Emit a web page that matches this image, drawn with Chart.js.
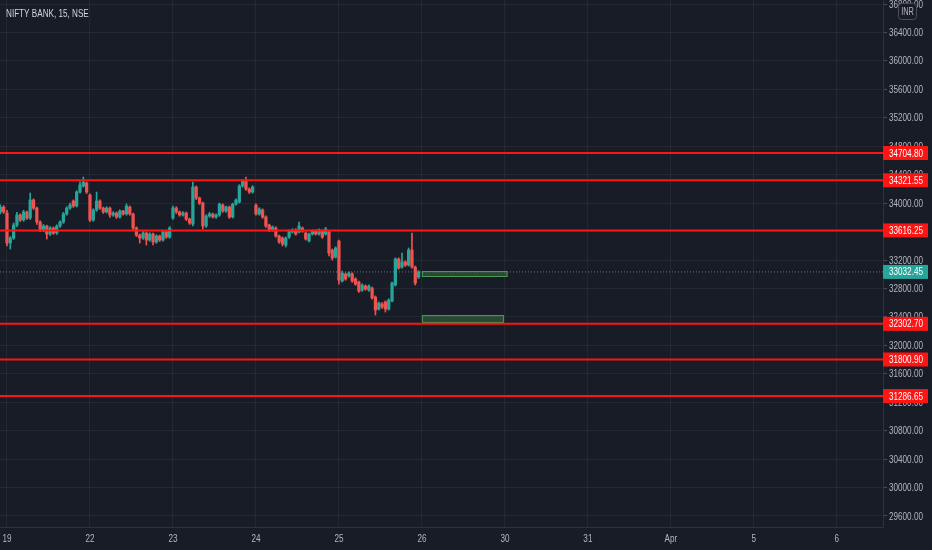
<!DOCTYPE html>
<html>
<head>
<meta charset="utf-8">
<title>NIFTY BANK, 15, NSE</title>
<script src="https://cdn.jsdelivr.net/npm/chart.js@4.4.0/dist/chart.umd.min.js"></script>
<style>
  html, body { margin: 0; padding: 0; background: #181c27; }
  #wrap { width: 932px; height: 550px; }
</style>
</head>
<body>
<div id="wrap"><canvas id="chart" width="932" height="550"></canvas></div>
<script>
'use strict';

// 15 min candles, first one is index -2 (end of the 18th), day 19 starts at 0
var firstIndex = -2;

var opens = [
  33875, 33945,
  // 19
  33861, 33439, 33509, 33692, 33833, 33762, 33875, 33790, 34044, 33931, 33734, 33622, 33678,
  33565, 33650, 33579, 33678, 33734, 33847, 33931, 34030, 33959, 34156, 34241, 34283,
  // 22
  34114, 33762, 33903, 34030, 33931, 33875, 33931, 33833, 33861, 33805, 33889, 33847, 33945,
  33847, 33650, 33551, 33509, 33579, 33481, 33565, 33453, 33537, 33481, 33594, 33523,
  // 23
  33790, 33931, 33875, 33833, 33861, 33776, 33706, 34227, 34072, 34001, 33678, 33819, 33847,
  33805, 33833, 33973, 33889, 33945, 33805, 33987, 34016, 34241, 34311, 34198, 34156,
  // 24
  33973, 33847, 33903, 33805, 33692, 33622, 33650, 33537, 33509, 33411, 33523, 33594, 33622,
  33594, 33650, 33579, 33467, 33565, 33608, 33565, 33608, 33565, 33594, 33340, 33242,
  // 25
  33467, 32904, 33003, 32975, 33003, 32933, 32890, 32777, 32834, 32777, 32806, 32679, 32510,
  32581, 32609, 32510, 32623, 32848, 33214, 33101, 33172, 33129, 33340, 33101, 32961
];

var highs = [
  33975, 33965,
  33900, 33530, 33720, 33870, 33850, 33900, 33890, 34142, 34060, 33945, 33750, 33700, 33690,
  33670, 33665, 33695, 33750, 33870, 33950, 34000, 34045, 34175, 34300, 34367, 34300,
  34130, 33920, 34156, 34045, 33945, 33950, 33945, 33880, 33875, 33905, 33900, 33990, 33960,
  33860, 33665, 33565, 33600, 33595, 33585, 33580, 33555, 33550, 33610, 33610, 33670,
  33960, 33950, 33890, 33880, 33875, 33790, 34297, 34241, 34085, 34015, 33835, 33870, 33860,
  33850, 34001, 33990, 33960, 33960, 34001, 34060, 34260, 34330, 34367, 34215, 34245,
  33990, 33935, 33920, 33820, 33705, 33680, 33665, 33550, 33525, 33525, 33625, 33640, 33640,
  33734, 33665, 33595, 33580, 33625, 33625, 33640, 33625, 33660, 33610, 33355, 33385,
  33480, 33045, 33020, 33035, 33020, 32950, 32905, 32865, 32850, 32850, 32820, 32695, 32610,
  32600, 32625, 32655, 32890, 33230, 33230, 33298, 33190, 33369, 33579, 33115, 33050
];

var lows = [
  33850, 33855,
  33397, 33354, 33490, 33670, 33740, 33745, 33770, 33770, 33910, 33700, 33600, 33600, 33495,
  33545, 33560, 33560, 33660, 33715, 33830, 33910, 33940, 33945, 34140, 34225, 34135,
  33740, 33745, 33885, 33910, 33855, 33860, 33800, 33815, 33785, 33790, 33830, 33830, 33830,
  33620, 33530, 33439, 33490, 33411, 33465, 33411, 33435, 33460, 33465, 33505, 33505,
  33770, 33855, 33815, 33815, 33755, 33700, 33680, 34050, 33980, 33636, 33660, 33800, 33790,
  33785, 33815, 33870, 33870, 33785, 33790, 33970, 34000, 34225, 34180, 34135, 34140,
  33830, 33830, 33785, 33660, 33600, 33605, 33520, 33435, 33397, 33383, 33505, 33580, 33550,
  33580, 33590, 33480, 33453, 33550, 33550, 33550, 33505, 33550, 33256, 33200, 33228,
  32862, 32890, 32915, 32960, 32885, 32845, 32745, 32760, 32775, 32760, 32650, 32426, 32495,
  32520, 32468, 32495, 32610, 32835, 33070, 33085, 33110, 33115, 33085, 32848, 32940
];

var closes = [
  33945, 33875,
  33439, 33509, 33692, 33833, 33762, 33875, 33790, 34044, 33931, 33734, 33622, 33678, 33565,
  33650, 33579, 33678, 33734, 33847, 33931, 33973, 33959, 34156, 34255, 34297, 34156,
  33762, 33903, 34030, 33931, 33875, 33931, 33833, 33861, 33805, 33889, 33847, 33959, 33847,
  33650, 33551, 33509, 33579, 33481, 33565, 33453, 33537, 33481, 33594, 33523, 33650,
  33931, 33875, 33833, 33861, 33776, 33720, 34227, 34072, 34001, 33678, 33819, 33847, 33805,
  33833, 33987, 33889, 33945, 33805, 33987, 34044, 34241, 34311, 34198, 34156, 34227,
  33847, 33917, 33805, 33678, 33622, 33664, 33537, 33453, 33425, 33509, 33608, 33622, 33565,
  33678, 33608, 33495, 33565, 33608, 33565, 33622, 33523, 33636, 33298, 33228, 33369,
  32918, 33017, 32933, 33017, 32904, 32862, 32763, 32848, 32791, 32834, 32665, 32496, 32595,
  32539, 32510, 32637, 32876, 33214, 33087, 33172, 33129, 33340, 33101, 32876, 33032.45
];

// time axis: candle index where each day starts
var dayTicks = [0, 25, 50, 75, 100, 125, 150, 175, 200, 225, 250];
var dayLabels = ['19', '22', '23', '24', '25', '26', '30', '31', 'Apr', '5', '6'];

var priceTicks = [29600, 30000, 30400, 30800, 31200, 31600, 32000, 32400, 32800, 33200,
  33600, 34000, 34400, 34800, 35200, 35600, 36000, 36400, 36800];

// horizontal levels drawn in red
var levels = [34704.80, 34321.55, 33616.25, 32302.70, 31800.90, 31286.65];
var lastPrice = 33032.45;

// green zones (candle index range, price range)
var zoneFrom = [125, 125];
var zoneTo = [150.8, 149.7];
var zoneTop = [33045, 32426];
var zoneBottom = [32961, 32315];

var xMin = -2.1, xMax = 263.9;
var yMin = 29445, yMax = 36857;

var UP = '#26a69a', DOWN = '#ef5350';
var FONT = "'Liberation Sans', Arial, sans-serif";
var SQ = 0.74; // the screenshot text is narrow

Chart.defaults.font.family = FONT;
Chart.defaults.font.size = 11;
Chart.defaults.color = '#b2b5be';

var wicks = [], bodies = [], colors = [];
for (let k = 0; k < closes.length; k++) {
  let x = firstIndex + k;
  wicks.push({ x: x, y: [lows[k], highs[k]] });
  bodies.push({ x: x, y: [opens[k], closes[k]] });
  colors.push(closes[k] >= opens[k] ? UP : DOWN);
}

var datasets = [
  { type: 'bar', label: 'wick', data: wicks, backgroundColor: colors, barThickness: 1, grouped: false, order: 2 },
  { type: 'bar', label: 'body', data: bodies, backgroundColor: colors, barThickness: 2.6, grouped: false, order: 1 }
];

levels.forEach(function (lvl) {
  datasets.push({
    type: 'line', data: [{ x: xMin, y: lvl }, { x: xMax, y: lvl }],
    borderColor: '#ff1414', borderWidth: 2, pointRadius: 0, order: 0
  });
});

datasets.push({
  type: 'line', data: [{ x: xMin, y: lastPrice }, { x: xMax, y: lastPrice }],
  borderColor: 'rgba(120,124,136,0.9)', borderWidth: 1, borderDash: [1, 2], pointRadius: 0, order: 3
});

function squeeze(c, text, x, y, align) {
  c.save();
  c.translate(x, y);
  c.scale(SQ, 1);
  c.textAlign = align;
  c.textBaseline = 'middle';
  c.fillText(text, 0, 0);
  c.restore();
}

function tag(c, x, y, text, fill, color) {
  c.fillStyle = fill;
  c.fillRect(x, y - 7, 45, 14);
  c.fillStyle = color;
  squeeze(c, text, x + 6, y + 0.5, 'left');
}

var bgPlugin = {
  id: 'bg',
  beforeDraw: function (chart) {
    let c = chart.ctx;
    c.save();
    c.fillStyle = '#181c27';
    c.fillRect(0, 0, chart.width, chart.height);
    c.restore();
  },
  beforeDatasetsDraw: function (chart) {
    let c = chart.ctx, xs = chart.scales.x, ys = chart.scales.y;
    c.save();
    for (let i = 0; i < zoneFrom.length; i++) {
      let x1 = xs.getPixelForValue(zoneFrom[i]), x2 = xs.getPixelForValue(zoneTo[i]);
      let y1 = ys.getPixelForValue(zoneTop[i]), y2 = ys.getPixelForValue(zoneBottom[i]);
      c.fillStyle = 'rgba(76,175,80,0.3)';
      c.fillRect(x1, y1, x2 - x1, y2 - y1);
      c.strokeStyle = '#4a9a55';
      c.lineWidth = 1;
      c.strokeRect(x1 + 0.5, y1 + 0.5, x2 - x1 - 1, y2 - y1 - 1);
    }
    c.restore();
  }
};

var labelPlugin = {
  id: 'labels',
  afterDraw: function (chart) {
    let c = chart.ctx, xs = chart.scales.x, ys = chart.scales.y, area = chart.chartArea;
    c.save();
    c.font = '11px ' + FONT;
    c.fillStyle = '#b2b5be';

    // price axis labels
    priceTicks.forEach(function (v) {
      squeeze(c, v.toFixed(2), area.right + 6, ys.getPixelForValue(v) + 0.5, 'left');
    });
    // time axis labels
    dayTicks.forEach(function (v, i) {
      squeeze(c, dayLabels[i], xs.getPixelForValue(v), area.bottom + 12, 'center');
    });

    levels.forEach(function (lvl) {
      tag(c, area.right, ys.getPixelForValue(lvl), lvl.toFixed(2), '#ff1414', '#ffffff');
    });
    tag(c, area.right, ys.getPixelForValue(lastPrice), lastPrice.toFixed(2), '#26a69a', '#ffffff');

    // currency box
    c.fillStyle = '#181c27';
    c.strokeStyle = '#4a4e59';
    c.lineWidth = 1;
    c.beginPath();
    c.roundRect(898.5, 3.5, 18, 16, 3);
    c.fill();
    c.stroke();
    c.fillStyle = '#b2b5be';
    c.font = '10px ' + FONT;
    squeeze(c, 'INR', 907.5, 12, 'center');

    // symbol title
    c.font = '11px ' + FONT;
    c.fillStyle = '#d1d4dc';
    squeeze(c, 'NIFTY BANK, 15, NSE', 6, 14, 'left');
    c.restore();
  }
};

new Chart(document.getElementById('chart'), {
  type: 'bar',
  data: { datasets: datasets },
  options: {
    responsive: false,
    animation: false,
    layout: { padding: 0 },
    plugins: { legend: { display: false }, tooltip: { enabled: false } },
    scales: {
      x: {
        type: 'linear', min: xMin, max: xMax, offset: false,
        grid: { color: 'rgba(255,255,255,0.05)', offset: false, drawTicks: false },
        border: { color: '#2e323d' },
        ticks: { display: false },
        afterBuildTicks: function (s) { s.ticks = dayTicks.map(function (v) { return { value: v }; }); },
        afterFit: function (s) { s.height = 23; s.paddingLeft = 0; s.paddingRight = 0; }
      },
      y: {
        position: 'right', min: yMin, max: yMax,
        grid: { color: 'rgba(255,255,255,0.05)', tickColor: '#4a4e59', tickLength: 4 },
        border: { color: '#2e323d' },
        ticks: { display: false },
        afterBuildTicks: function (s) { s.ticks = priceTicks.map(function (v) { return { value: v }; }); },
        afterFit: function (s) { s.width = 49; s.paddingTop = 0; s.paddingBottom = 0; }
      }
    }
  },
  plugins: [bgPlugin, labelPlugin]
});
</script>
</body>
</html>
